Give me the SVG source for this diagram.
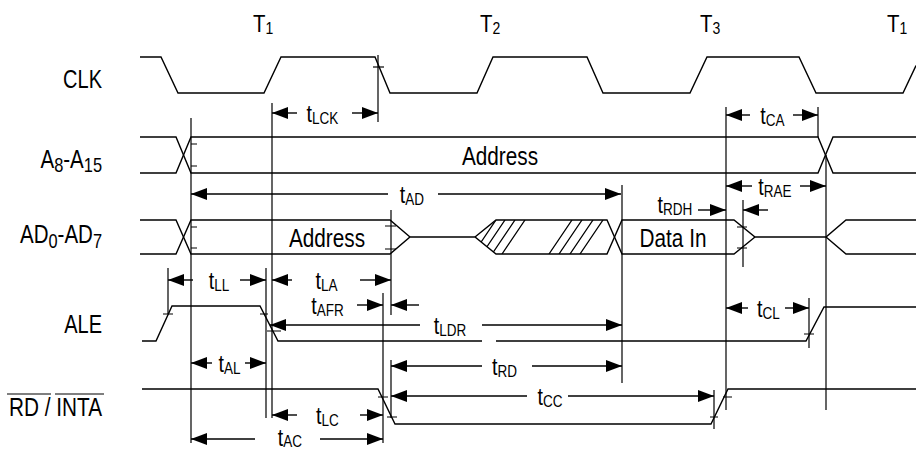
<svg xmlns="http://www.w3.org/2000/svg" width="916" height="451" viewBox="0 0 916 451">
<style>
.w{fill:none;stroke:#000;stroke-width:1.4;stroke-linejoin:miter}
.g{fill:none;stroke:#000;stroke-width:1.2}
.a{fill:none;stroke:#000;stroke-width:1.4;marker-end:url(#ah)}
.h{fill:none;stroke:#000;stroke-width:1.3}
text{font-family:"Liberation Sans",Arial,sans-serif;font-size:24px;fill:#000}
.L{font-size:25px}
.s{font-size:16.5px}
.m{font-size:20px}
</style>
<defs>
<marker id="ah" markerUnits="userSpaceOnUse" markerWidth="17" markerHeight="12" refX="16" refY="6" orient="auto" viewBox="0 0 17 12"><path d="M0,0 L16,6 L0,12 z" fill="#000"/></marker>
<clipPath id="hc"><polygon points="475,237 496,220 607,220 614.5,237 607,254 496,254"/></clipPath>
</defs>

<g id="labels">
<text class="L" transform="translate(102,88) scale(0.8,1)" text-anchor="end">CLK</text>
<text class="L" transform="translate(102,168) scale(0.82,1)" text-anchor="end">A<tspan class="m" dy="4">8</tspan><tspan dy="-4">-A</tspan><tspan class="m" dy="4">15</tspan></text>
<text class="L" transform="translate(102,243) scale(0.82,1)" text-anchor="end">AD<tspan class="m" dy="5">0</tspan><tspan dy="-5">-AD</tspan><tspan class="m" dy="5">7</tspan></text>
<text class="L" transform="translate(102,333) scale(0.8,1)" text-anchor="end">ALE</text>
<text class="L" transform="translate(102,416) scale(0.83,1)" text-anchor="end">RD / INTA</text>
<path class="g" d="M7,394 H51 M55,394 H104"/>
<text transform="translate(253,32) scale(0.85,1)">T<tspan class="s" dy="2">1</tspan></text>
<text transform="translate(480,32) scale(0.85,1)">T<tspan class="s" dy="2">2</tspan></text>
<text transform="translate(700,32) scale(0.85,1)">T<tspan class="s" dy="2">3</tspan></text>
<text transform="translate(887,32) scale(0.85,1)">T<tspan class="s" dy="2">1</tspan></text>
</g>

<g id="clk">
<polyline class="w" points="140,57 161,57 178,93 264,93 281,57 375,57 390,93 477,93 493,57 587,57 603,93 690,93 707,57 799,57 816,93 903,93 916,65.5"/>
<path class="g" d="M373,67 H384"/>
</g>

<g id="a8a15">
<path class="w" d="M140,137 H176 L191,173 H818 L833,137 H916"/>
<path class="w" d="M140,173 H176 L191,137 H818 L833,173 H916"/>
<path class="g" d="M191,144 h6 M191,166 h6"/>
<text class="L" transform="translate(500,165) scale(0.83,1)" text-anchor="middle">Address</text>
</g>

<g id="ad0ad7">
<path class="w" d="M140,220 H176 L191,254 H390 L410,237 H475 L496,254 H607 L622,220 H734 L755,237 H826 L846,220 H916"/>
<path class="w" d="M140,254 H176 L191,220 H390 L410,237 M475,237 L496,220 H607 L622,254 H734 L755,237 M826,237 L846,254 H916"/>
<g clip-path="url(#hc)">
<path class="h" d="M496,220 L473,254 M505,220 L482,254 M515,220 L492,254 M525,220 L502,254 M572,220 L549,254 M582,220 L559,254 M593,220 L570,254 M603,220 L580,254"/>
</g>
<path class="g" d="M191,227 h6 M191,248 h6 M385,226 h11 M385,249 h11 M737,227 h10 M737,248 h10"/>
<text class="L" transform="translate(327,247) scale(0.83,1)" text-anchor="middle">Address</text>
<text class="L" transform="translate(673,247) scale(0.83,1)" text-anchor="middle">Data In</text>
</g>

<g id="ale">
<path class="w" d="M142,341 H156 L172,306 H260 L278,341 H482 M496,341 H806 L824,307 H916"/>
<path class="g" d="M163,314 h10 M260,314 h8 M267,331 h14 M804,334 h10"/>
</g>

<g id="rd">
<path class="w" d="M142,389 H378 L395,424 H711 L728,389 H916"/>
<path class="g" d="M378,397 h10 M387,417 h10 M710,417 h8 M723,397 h9"/>
</g>

<g id="connectors">
<g id="guides">
<path class="g" d="M378,55 V122 M272,103 V418 M191,118 V443 M168,268 V314 M266,268 V418 M383,293 V443 M391,210 V315 M391,360 V418 M622,185 V383 M726,107 V410 M743,200 V267 M809,298 V348 M818,107 V137 M826,155 V410 M714,390 V429"/>
</g>
<g id="arrows">
<path class="a" d="M297,113 H272"/><path class="a" d="M352,113 H378"/>
<path class="a" d="M750,115 H726"/><path class="a" d="M793,115 H818"/>
<path class="a" d="M388,194 H191"/><path class="a" d="M438,194 H621"/>
<path class="a" d="M698,210 H726"/><path class="a" d="M768,210 H743"/>
<path class="a" d="M752,186 H726"/><path class="a" d="M800,186 H826"/>
<path class="a" d="M193,280 H168"/><path class="a" d="M240,280 H266"/>
<path class="a" d="M292,280 H272"/><path class="a" d="M360,280 H391"/>
<path class="a" d="M357,305 H383"/><path class="a" d="M419,305 H391"/>
<path class="a" d="M420,325 H270"/><path class="a" d="M482,325 H622"/>
<path class="a" d="M748,308 H726"/><path class="a" d="M785,308 H809"/>
<path class="a" d="M212,363 H191"/><path class="a" d="M245,363 H266"/>
<path class="a" d="M482,366 H391"/><path class="a" d="M532,366 H622"/>
<path class="a" d="M527,396 H391"/><path class="a" d="M568,396 H714"/>
<path class="a" d="M297,415 H272"/><path class="a" d="M360,415 H383"/>
<path class="a" d="M255,439 H191"/><path class="a" d="M320,439 H383"/>
</g>
<g id="timing-labels">
<text transform="translate(322.5,122) scale(0.82,1)" text-anchor="middle">t<tspan class="s" dy="2">LCK</tspan></text>
<text transform="translate(772.5,124) scale(0.82,1)" text-anchor="middle">t<tspan class="s" dy="2">CA</tspan></text>
<text transform="translate(412,203) scale(0.82,1)" text-anchor="middle">t<tspan class="s" dy="2">AD</tspan></text>
<text transform="translate(675,213) scale(0.82,1)" text-anchor="middle">t<tspan class="s" dy="2">RDH</tspan></text>
<text transform="translate(775,195) scale(0.82,1)" text-anchor="middle">t<tspan class="s" dy="2">RAE</tspan></text>
<text transform="translate(219,289) scale(0.82,1)" text-anchor="middle">t<tspan class="s" dy="2">LL</tspan></text>
<text transform="translate(326.5,289) scale(0.82,1)" text-anchor="middle">t<tspan class="s" dy="2">LA</tspan></text>
<text transform="translate(327.5,314) scale(0.82,1)" text-anchor="middle">t<tspan class="s" dy="2">AFR</tspan></text>
<text transform="translate(450,334) scale(0.82,1)" text-anchor="middle">t<tspan class="s" dy="2">LDR</tspan></text>
<text transform="translate(768.5,317) scale(0.82,1)" text-anchor="middle">t<tspan class="s" dy="2">CL</tspan></text>
<text transform="translate(229.5,372) scale(0.82,1)" text-anchor="middle">t<tspan class="s" dy="2">AL</tspan></text>
<text transform="translate(504.5,375) scale(0.82,1)" text-anchor="middle">t<tspan class="s" dy="2">RD</tspan></text>
<text transform="translate(550,405) scale(0.82,1)" text-anchor="middle">t<tspan class="s" dy="2">CC</tspan></text>
<text transform="translate(327.5,424) scale(0.82,1)" text-anchor="middle">t<tspan class="s" dy="2">LC</tspan></text>
<text transform="translate(290,446) scale(0.82,1)" text-anchor="middle">t<tspan class="s" dy="1">AC</tspan></text>
</g>
</g>
</svg>
